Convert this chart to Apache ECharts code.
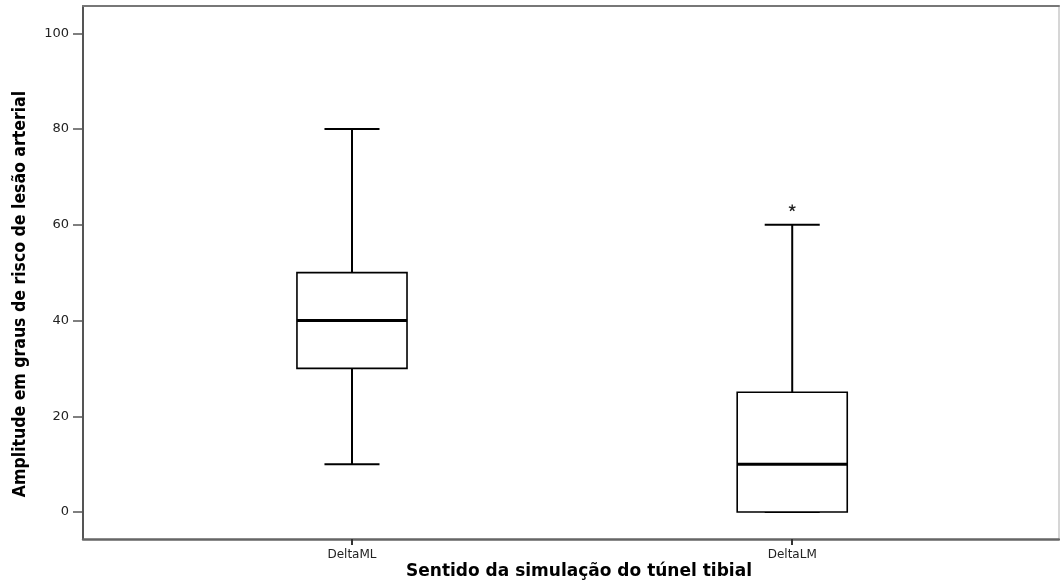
<!DOCTYPE html>
<html>
<head>
<meta charset="utf-8">
<script src="https://cdn.jsdelivr.net/npm/echarts@6/dist/echarts.min.js"></script>
<style>
  html, body { margin: 0; padding: 0; background: #fff; }
  #chart { width: 1060px; height: 583px; }
</style>
</head>
<body>
<div id="chart"></div>
<script>
// Box-plot summary per group
const categories = ['DeltaML', 'DeltaLM'];
const whiskerLow = [10, 0];
const quartile1 = [30, 0];
const medians = [40, 10];
const quartile3 = [50, 25];
const whiskerHigh = [80, 60];
// Outliers: [group index, value]
const outliers = [[1, 63.5]];
const yTicks = [0, 20, 40, 60, 80, 100];

const boxData = categories.map((c, i) => [
  i + 1, whiskerLow[i], quartile1[i], medians[i], quartile3[i], whiskerHigh[i]
]);
const outlierData = outliers.map(o => [o[0] + 1, o[1]]);

const BOX_W = 0.25;   // box width in x units
const CAP_W = 0.125;  // whisker cap width in x units

function renderBox(params, api) {
  const x = api.value(0);
  const pLow = api.coord([x, api.value(1)]);
  const pQ1 = api.coord([x, api.value(2)]);
  const pMed = api.coord([x, api.value(3)]);
  const pQ3 = api.coord([x, api.value(4)]);
  const pHigh = api.coord([x, api.value(5)]);
  const bw = api.size([BOX_W, 0])[0];
  const cw = api.size([CAP_W, 0])[0];
  const cx = pMed[0];
  const ink = { stroke: '#000', fill: null };
  return {
    type: 'group',
    children: [
      { type: 'line', shape: { x1: cx, y1: pQ3[1], x2: cx, y2: pHigh[1] }, style: Object.assign({ lineWidth: 2 }, ink) },
      { type: 'line', shape: { x1: cx, y1: pQ1[1], x2: cx, y2: pLow[1] }, style: Object.assign({ lineWidth: 2 }, ink) },
      { type: 'line', shape: { x1: cx - cw / 2, y1: pHigh[1], x2: cx + cw / 2, y2: pHigh[1] }, style: Object.assign({ lineWidth: 2 }, ink) },
      { type: 'line', shape: { x1: cx - cw / 2, y1: pLow[1], x2: cx + cw / 2, y2: pLow[1] }, style: Object.assign({ lineWidth: 2 }, ink) },
      { type: 'rect', shape: { x: cx - bw / 2, y: pQ3[1], width: bw, height: pQ1[1] - pQ3[1] }, style: { stroke: '#000', fill: '#fff', lineWidth: 1.6 } },
      { type: 'line', shape: { x1: cx - bw / 2, y1: pMed[1], x2: cx + bw / 2, y2: pMed[1] }, style: Object.assign({ lineWidth: 3 }, ink) }
    ]
  };
}

// Outlier drawn as a small five-armed asterisk
function renderStar(params, api) {
  const p = api.coord([api.value(0), api.value(1)]);
  const r = 3.5;
  const arms = [];
  for (let k = 0; k < 5; k++) {
    const a = -Math.PI / 2 + k * 2 * Math.PI / 5;
    arms.push({ type: 'line', shape: { x1: p[0], y1: p[1], x2: p[0] + r * Math.cos(a), y2: p[1] + r * Math.sin(a) }, style: { stroke: '#222', lineWidth: 1.4 } });
  }
  return { type: 'group', children: arms };
}

const chart = echarts.init(document.getElementById('chart'), null, { renderer: 'canvas' });
chart.setOption({
  animation: false,
  backgroundColor: '#fff',
  grid: { left: 83, right: 1, top: 6, bottom: 44 },
  xAxis: [
    {
      type: 'value', min: 0.389, max: 2.606,
      splitLine: { show: false },
      axisLine: { show: true, onZero: false, lineStyle: { color: '#666', width: 2.5 } },
      axisTick: { show: true, customValues: [1, 2], length: 6, lineStyle: { color: '#333', width: 2 } },
      axisLabel: {
        customValues: [1, 2], margin: 10,
        formatter: v => categories[Math.round(v) - 1] || '',
        color: '#222', fontFamily: 'DejaVu Sans', fontSize: 12
      }
    },
    {
      type: 'value', position: 'top', min: 0.389, max: 2.606,
      splitLine: { show: false }, axisTick: { show: false }, axisLabel: { show: false },
      axisLine: { show: true, onZero: false, lineStyle: { color: '#777', width: 2 } }
    }
  ],
  yAxis: [
    {
      type: 'value', min: -5.64, max: 105.7,
      splitLine: { show: false },
      axisLine: { show: true, onZero: false, lineStyle: { color: '#555', width: 2 } },
      axisTick: { show: true, customValues: yTicks, length: 10, lineStyle: { color: '#555', width: 1.5 } },
      axisLabel: { customValues: yTicks, margin: 14, color: '#222', fontFamily: 'DejaVu Sans', fontSize: 13 }
    },
    {
      type: 'value', position: 'right', min: -5.64, max: 105.7,
      splitLine: { show: false }, axisTick: { show: false }, axisLabel: { show: false },
      axisLine: { show: true, onZero: false, lineStyle: { color: '#c8c8c8', width: 1.5 } }
    }
  ],
  graphic: [
    {
      type: 'text', x: 20, y: 294, rotation: Math.PI / 2,
      style: {
        text: 'Amplitude em graus de risco de lesão arterial',
        fontFamily: "'DejaVu Sans Condensed', 'Liberation Sans Narrow', 'DejaVu Sans', sans-serif",
        fontWeight: 'bold', fontSize: 17.5, fill: '#000',
        textAlign: 'center', textVerticalAlign: 'middle'
      }
    },
    {
      type: 'text', x: 579, y: 572,
      style: {
        text: 'Sentido da simulação do túnel tibial',
        fontFamily: "'DejaVu Sans', sans-serif",
        fontWeight: 'bold', fontSize: 17, fill: '#000',
        textAlign: 'center', textVerticalAlign: 'middle'
      }
    }
  ],
  series: [
    { type: 'custom', renderItem: renderBox, data: boxData, encode: { x: 0, y: [1, 2, 3, 4, 5] }, clip: false },
    { type: 'custom', renderItem: renderStar, data: outlierData, encode: { x: 0, y: 1 } }
  ]
});
</script>
</body>
</html>
